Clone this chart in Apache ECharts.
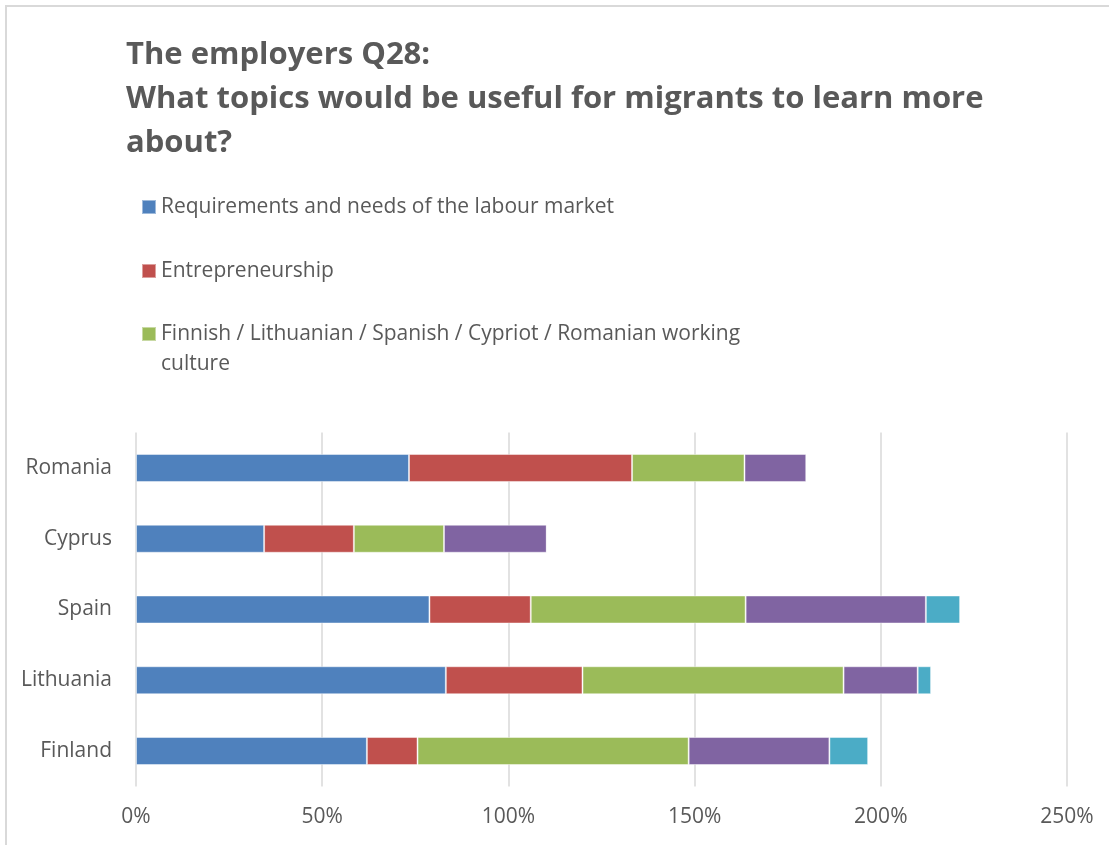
<!DOCTYPE html>
<html>
<head>
<meta charset="utf-8">
<script src="https://cdn.jsdelivr.net/npm/echarts@6/dist/echarts.min.js"></script>
<style>
html,body{margin:0;padding:0;background:#fff;}
#chart{position:absolute;left:0;top:0;width:1109px;height:845px;}
#frame{position:absolute;left:5px;top:5px;width:1200px;height:1000px;border-left:2px solid #d9d9d9;border-top:2px solid #d9d9d9;pointer-events:none;}
</style>
</head>
<body>
<div id="chart"></div>
<div id="frame"></div>
<script>
const categories = ['Romania', 'Cyprus', 'Spain', 'Lithuania', 'Finland'];
const seriesNames = [
  'Requirements and needs of the labour market',
  'Entrepreneurship',
  'Finnish / Lithuanian / Spanish / Cypriot / Romanian working culture',
  'Series 4',
  'Series 5'
];
const requirementsValues = [73.3, 34.4, 78.8, 83.2, 62.0];
const entrepreneurshipValues = [59.9, 24.1, 27.2, 36.7, 13.6];
const workingCultureValues = [30.2, 24.2, 57.7, 70.1, 72.8];
const series4Values = [16.6, 27.6, 48.4, 19.9, 37.8];
const series5Values = [0, 0, 9.2, 3.6, 10.4];
const xTicks = [0, 50, 100, 150, 200, 250];
const colors = ['#4f81bd', '#c0504d', '#9bbb59', '#8064a2', '#4bacc6'];

const allValues = [requirementsValues, entrepreneurshipValues, workingCultureValues, series4Values, series5Values];
const FONT = 'Open Sans';
const TXT = '#595959';
const FS = 21;

const chart = echarts.init(document.getElementById('chart'), null, {renderer: 'canvas'});

function legendFor(i, top, extra) {
  return Object.assign({
    left: 141,
    top: top,
    padding: 0,
    orient: 'vertical',
    itemWidth: 14,
    itemHeight: 14,
    icon: 'rect',
    data: [seriesNames[i]],
    textStyle: {fontFamily: FONT, fontSize: FS, color: TXT, lineHeight: 24}
  }, extra || {});
}

const option = {
  animation: false,
  backgroundColor: '#fff',
  color: colors,
  title: {
    text: 'The employers Q28:\nWhat topics would be useful for migrants to learn more\nabout?',
    left: 126,
    top: 33,
    padding: 0,
    textStyle: {fontFamily: FONT, fontWeight: 'bold', fontSize: 31, color: TXT, lineHeight: 44}
  },
  legend: [
    legendFor(0, 195),
    legendFor(1, 259),
    legendFor(2, 289, {
      formatter: function (n) { return ' \n' + n.replace(' working ', ' working\n'); },
      textStyle: {fontFamily: FONT, fontSize: FS, color: TXT, lineHeight: 30}
    })
  ],
  grid: {left: 136, right: 42, top: 432.6, bottom: 58.6, containLabel: false},
  xAxis: {
    type: 'value',
    min: 0,
    max: 250,
    interval: 50,
    axisLine: {show: false},
    axisTick: {show: false},
    splitLine: {lineStyle: {color: '#d9d9d9', width: 1.5}},
    axisLabel: {
      formatter: '{value}%',
      fontFamily: FONT,
      fontSize: FS,
      color: TXT,
      margin: 20,
      customValues: xTicks
    }
  },
  yAxis: {
    type: 'category',
    data: categories,
    inverse: true,
    axisLine: {show: false},
    axisTick: {show: false},
    axisLabel: {fontFamily: FONT, fontSize: FS, color: TXT, margin: 24}
  },
  series: allValues.map(function (vals, i) {
    return {
      name: seriesNames[i],
      type: 'bar',
      stack: 'total',
      barWidth: 28,
      data: vals,
      itemStyle: {color: colors[i], borderColor: 'rgba(255,255,255,0.45)', borderWidth: 1}
    };
  })
};
chart.setOption(option);
</script>
</body>
</html>
